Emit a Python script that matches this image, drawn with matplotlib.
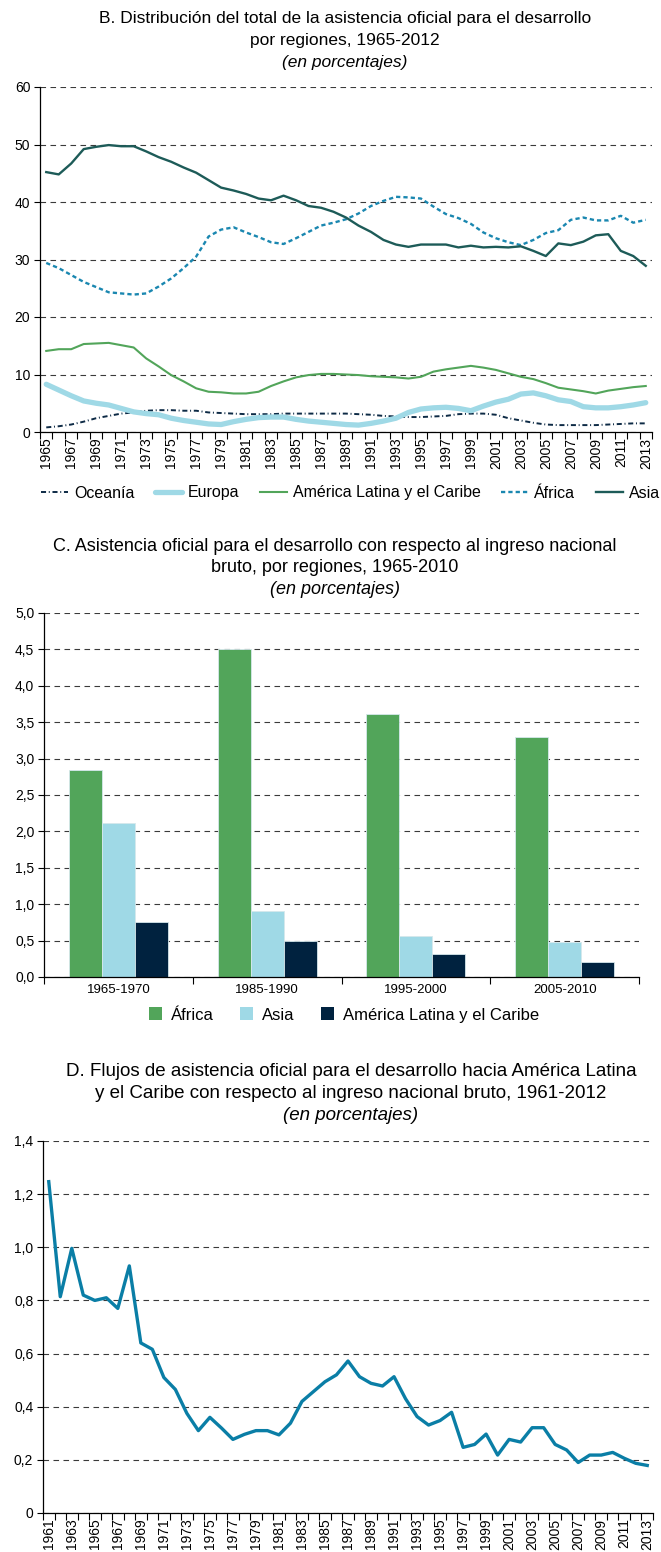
import matplotlib
matplotlib.use("Agg")
import matplotlib.pyplot as plt
from matplotlib.patches import Patch
from matplotlib.ticker import FixedLocator, FuncFormatter

plt.rcParams["font.family"] = ["Liberation Sans", "DejaVu Sans"]

# ---- Panel B: share of total ODA by region, 1965-2013 ----
years_b = list(range(1965, 2014))
oceania = [0.8, 1.0, 1.3, 1.8, 2.4, 2.8, 3.2, 3.4, 3.7, 3.8, 3.8, 3.7, 3.7, 3.4, 3.3, 3.2,
           3.1, 3.1, 3.1, 3.2, 3.2, 3.2, 3.2, 3.2, 3.2, 3.1, 3.0, 2.8, 2.7, 2.6, 2.6, 2.7,
           2.8, 3.1, 3.2, 3.2, 3.0, 2.4, 2.0, 1.6, 1.3, 1.2, 1.2, 1.2, 1.2, 1.3, 1.4, 1.5, 1.5]
europa = [8.3, 7.3, 6.3, 5.4, 5.0, 4.7, 4.1, 3.5, 3.2, 3.0, 2.4, 2.0, 1.7, 1.4, 1.3, 1.8,
          2.2, 2.5, 2.6, 2.6, 2.2, 1.9, 1.7, 1.5, 1.3, 1.2, 1.5, 1.9, 2.4, 3.4, 4.0, 4.2,
          4.3, 4.1, 3.7, 4.5, 5.2, 5.7, 6.6, 6.8, 6.3, 5.6, 5.3, 4.4, 4.2, 4.2, 4.4, 4.7, 5.1]
alc = [14.1, 14.4, 14.4, 15.3, 15.4, 15.5, 15.1, 14.7, 12.8, 11.4, 9.9, 8.8, 7.6, 7.0, 6.9, 6.7,
       6.7, 7.0, 8.0, 8.8, 9.5, 9.9, 10.1, 10.1, 10.0, 9.9, 9.7, 9.6, 9.5, 9.3, 9.6, 10.5,
       10.9, 11.2, 11.5, 11.2, 10.8, 10.2, 9.6, 9.2, 8.5, 7.7, 7.4, 7.1, 6.7, 7.2, 7.5, 7.8, 8.0]
africa = [29.4, 28.5, 27.3, 26.1, 25.2, 24.3, 24.1, 23.9, 24.1, 25.3, 26.7, 28.5, 30.5, 34.0, 35.2, 35.6,
          34.7, 33.9, 33.0, 32.7, 33.7, 34.8, 35.9, 36.4, 37.0, 38.0, 39.3, 40.2, 40.9, 40.8, 40.6, 39.2,
          37.9, 37.2, 36.2, 34.7, 33.7, 33.0, 32.5, 33.4, 34.6, 35.1, 36.9, 37.3, 36.8, 36.8, 37.6, 36.4, 36.9]
asia = [45.2, 44.8, 46.7, 49.2, 49.6, 49.9, 49.7, 49.7, 48.8, 47.8, 47.0, 46.0, 45.1, 43.8, 42.5, 42.0,
        41.4, 40.6, 40.3, 41.1, 40.3, 39.3, 39.0, 38.3, 37.3, 35.9, 34.8, 33.4, 32.6, 32.2, 32.6, 32.6,
        32.6, 32.1, 32.4, 32.1, 32.2, 32.1, 32.3, 31.5, 30.6, 32.8, 32.5, 33.1, 34.2, 34.4, 31.5, 30.6, 28.9]

# ---- Panel C: ODA / GNI by region ----
periods_c = ["1965-1970", "1985-1990", "1995-2000", "2005-2010"]
bar_africa = [2.85, 4.51, 3.61, 3.29]
bar_asia = [2.11, 0.91, 0.56, 0.48]
bar_alc = [0.75, 0.50, 0.31, 0.21]

# ---- Panel D: ODA flows to Latin America / GNI, 1961-2013 ----
years_d = list(range(1961, 2014))
alc_gni = [1.247, 0.814, 0.996, 0.82, 0.80, 0.81, 0.77, 0.93, 0.64, 0.616,
           0.51, 0.465, 0.375, 0.31, 0.36, 0.32, 0.277, 0.296, 0.31, 0.31,
           0.294, 0.338, 0.42, 0.457, 0.494, 0.52, 0.572, 0.513, 0.488, 0.478,
           0.513, 0.43, 0.363, 0.331, 0.348, 0.379, 0.247, 0.258, 0.297, 0.218,
           0.277, 0.267, 0.321, 0.321, 0.258, 0.237, 0.19, 0.218, 0.218, 0.228,
           0.206, 0.187, 0.179]

W, H = 661, 1552
C_ASIA = "#1d5b58"
C_AFR = "#1a87b0"
C_EUR = "#9fd9e6"
C_ALC = "#52a55a"
C_OCE = "#0d2a45"
C_NAVY = "#00223f"
C_D = "#0a7ea6"
GRID = dict(color="#3a3a3a", lw=0.8, ls=(0, (5, 4)))


def rect(l, r, t, b):
    return [l / W, 1 - b / H, (r - l) / W, (b - t) / H]


def title(lines, x, ys, size=13):
    for i, (txt, y) in enumerate(zip(lines, ys)):
        style = "italic" if i == len(lines) - 1 else "normal"
        fig.text(x / W, 1 - y / H, txt, ha="center", va="center",
                 fontsize=size, style=style)


def style_axes(ax):
    for s in ("top", "right"):
        ax.spines[s].set_visible(False)
    for s in ("left", "bottom"):
        ax.spines[s].set_color("black")
        ax.spines[s].set_linewidth(0.9)
    ax.tick_params(axis="y", direction="out", length=4, width=0.8, labelsize=10, pad=3)
    ax.yaxis.grid(True, **GRID)
    ax.set_axisbelow(True)


def category_xaxis(ax, years):
    n = len(years)
    ax.set_xlim(-0.5, n - 0.5)
    ax.xaxis.set_major_locator(FixedLocator(list(range(0, n, 2))))
    ax.set_xticklabels([str(y) for y in years[::2]], rotation=90, fontsize=10)
    ax.xaxis.set_minor_locator(FixedLocator([i - 0.5 for i in range(n + 1)]))
    ax.tick_params(axis="x", which="major", length=0, pad=4)
    ax.tick_params(axis="x", which="minor", length=5, width=0.8, direction="out")


comma = FuncFormatter(lambda v, p: f"{v:.1f}".replace(".", ","))

fig = plt.figure(figsize=(W / 100, H / 100), dpi=100)

# ---------- Panel B ----------
title(["B. Distribución del total de la asistencia oficial para el desarrollo",
       "por regiones, 1965-2012", "(en porcentajes)"], 345, [18, 40, 62], size=12.5)
axb = fig.add_axes(rect(40, 652, 87, 432))
style_axes(axb)
xb = list(range(len(years_b)))
axb.plot(xb, oceania, color=C_OCE, lw=1.4, ls=(0, (2.6, 1.4, 0.5, 1.4)), label="Oceanía")
axb.plot(xb, europa, color=C_EUR, lw=3.8, label="Europa", solid_capstyle="round")
axb.plot(xb, alc, color=C_ALC, lw=1.5, label="América Latina y el Caribe")
axb.plot(xb, africa, color=C_AFR, lw=1.7, ls=(0, (1.8, 1.3)), label="África")
axb.plot(xb, asia, color=C_ASIA, lw=1.7, label="Asia")
axb.set_ylim(0, 60)
axb.set_yticks(range(0, 61, 10))
category_xaxis(axb, years_b)
handles, labels = axb.get_legend_handles_labels()
fig.legend(handles, labels, loc="center", bbox_to_anchor=(0.53, 1 - 493 / H), ncol=5,
           frameon=False, fontsize=11.5, handlelength=1.7, columnspacing=1.3,
           handletextpad=0.35, borderaxespad=0, borderpad=0)

# ---------- Panel C ----------
title(["C. Asistencia oficial para el desarrollo con respecto al ingreso nacional",
       "bruto, por regiones, 1965-2010", "(en porcentajes)"], 335, [546, 568, 589])
axc = fig.add_axes(rect(44, 639, 613, 977))
style_axes(axc)
xc = list(range(len(periods_c)))
bw = 0.222
edge = dict(edgecolor="#d6e8ec", linewidth=0.6)
axc.bar([x - bw for x in xc], bar_africa, bw, color=C_ALC, label="África", **edge)
axc.bar(xc, bar_asia, bw, color=C_EUR, label="Asia", **edge)
axc.bar([x + bw for x in xc], bar_alc, bw, color=C_NAVY, label="América Latina y el Caribe", **edge)
axc.set_ylim(0, 5)
axc.set_yticks([i * 0.5 for i in range(11)])
axc.yaxis.set_major_formatter(comma)
axc.set_xlim(-0.5, len(xc) - 0.5)
axc.set_xticks(xc)
axc.set_xticklabels(periods_c, fontsize=9.5)
axc.xaxis.set_minor_locator(FixedLocator([i - 0.5 for i in range(len(xc) + 1)]))
axc.tick_params(axis="x", which="major", length=0, pad=5)
axc.tick_params(axis="x", which="minor", length=5, width=0.8)
hc = [Patch(facecolor=C_ALC), Patch(facecolor=C_EUR), Patch(facecolor=C_NAVY)]
fig.legend(hc, ["África", "Asia", "América Latina y el Caribe"], loc="center",
           bbox_to_anchor=(0.52, 1 - 1015 / H), ncol=3, frameon=False, fontsize=12,
           handlelength=0.8, handleheight=0.8, columnspacing=1.6, handletextpad=0.5,
           borderaxespad=0, borderpad=0)

# ---------- Panel D ----------
title(["D. Flujos de asistencia oficial para el desarrollo hacia América Latina",
       "y el Caribe con respecto al ingreso nacional bruto, 1961-2012",
       "(en porcentajes)"], 351, [1071, 1093, 1115], size=13.5)
axd = fig.add_axes(rect(43, 653, 1141, 1513))
style_axes(axd)
xd = list(range(len(years_d)))
axd.plot(xd, alc_gni, color=C_D, lw=2.4)
axd.set_ylim(0, 1.4)
axd.set_yticks([i * 0.2 for i in range(8)])
axd.yaxis.set_major_formatter(FuncFormatter(
    lambda v, p: "0" if abs(v) < 1e-9 else f"{v:.1f}".replace(".", ",")))
category_xaxis(axd, years_d)

fig.savefig("out.png", dpi=100)
